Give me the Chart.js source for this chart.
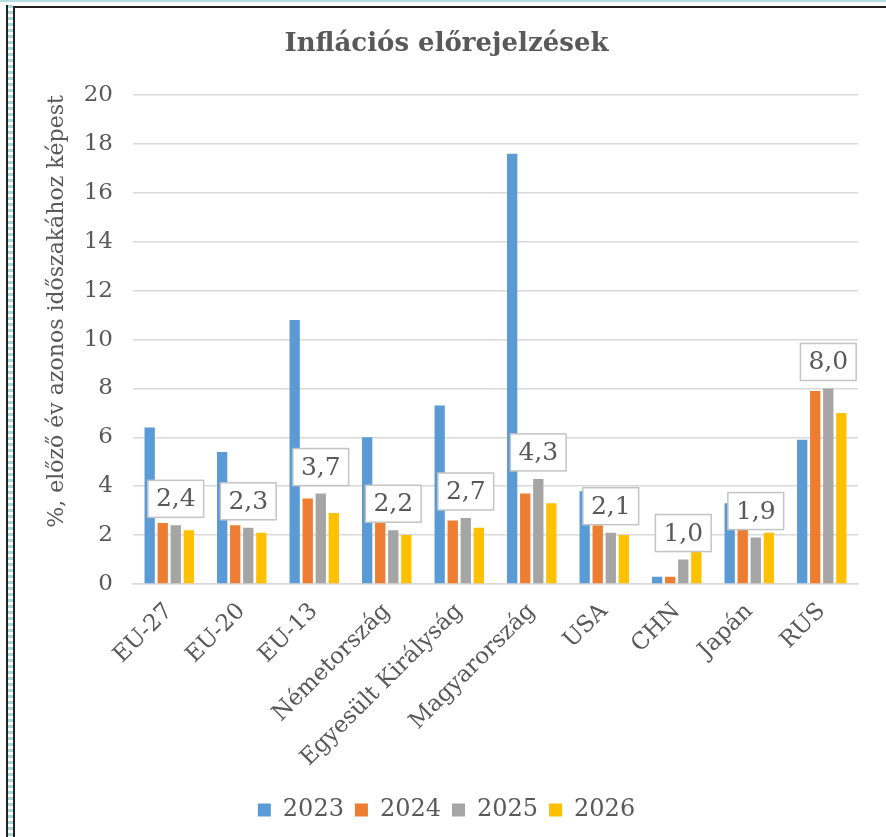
<!DOCTYPE html>
<html>
<head>
<meta charset="utf-8">
<script src="https://cdn.jsdelivr.net/npm/chart.js@4"></script>
<style>
  body { margin: 0; background: #fff; }
  #wrap { position: relative; width: 886px; height: 837px; overflow: hidden; }
  .topStripe { position: absolute; left: 0; top: 0; width: 886px; height: 2px; background: #B4DCE2; }
  .outerLine { position: absolute; left: 6px; top: 5px; width: 2px; height: 840px; background: #222; }
  .dotLine { position: absolute; left: 8px; top: 5px; width: 5px; height: 840px;
    background: repeating-linear-gradient(to bottom, #A9D6DC 0 3px, #fff 3px 6px); }
  .innerLeft { position: absolute; left: 13px; top: 6px; width: 2px; height: 840px; background: #222; }
  .innerTop { position: absolute; left: 13px; top: 6px; width: 880px; height: 2px; background: #222; }
  canvas { position: absolute; left: 0; top: 0; }
</style>
</head>
<body>
<div id="wrap">
  <div class="topStripe"></div>
  <div class="outerLine"></div>
  <div class="dotLine"></div>
  <div class="innerLeft"></div>
  <div class="innerTop"></div>
  <canvas id="inflationChart" width="886" height="837"></canvas>
</div>
<script>
const categories = ['EU-27', 'EU-20', 'EU-13', 'Németország', 'Egyesült Királyság', 'Magyarország', 'USA', 'CHN', 'Japán', 'RUS'];
const years = ['2023', '2024', '2025', '2026'];
const v2023 = [6.4, 5.4, 10.8, 6.0, 7.3, 17.6, 3.8, 0.3, 3.3, 5.9];
const v2024 = [2.5, 2.4, 3.5, 2.5, 2.6, 3.7, 2.4, 0.3, 2.3, 7.9];
const v2025 = [2.4, 2.3, 3.7, 2.2, 2.7, 4.3, 2.1, 1.0, 1.9, 8.0];
const v2026 = [2.2, 2.1, 2.9, 2.0, 2.3, 3.3, 2.0, 1.4, 2.1, 7.0];
const colors = ['#5B9BD5', '#ED7D31', '#A5A5A5', '#FFC000'];

const FONT = '"DejaVu Serif", serif';
const TEXT = '#595959';

// boxed value labels above the 2025 bars
const valueLabels = {
  id: 'valueLabels',
  afterDatasetsDraw(chart) {
    const meta = chart.getDatasetMeta(2);
    const ctx = chart.ctx;
    ctx.save();
    ctx.font = '25px ' + FONT;
    meta.data.forEach((bar, i) => {
      const text = v2025[i].toFixed(1).replace('.', ',');
      const w = ctx.measureText(text).width + 16;
      const h = 37;
      const x = bar.x - w / 2;
      const y = bar.y - 8 - h;
      ctx.fillStyle = '#fff';
      ctx.fillRect(x, y, w, h);
      ctx.strokeStyle = '#C4C4C4';
      ctx.lineWidth = 1.5;
      ctx.strokeRect(x, y, w, h);
      ctx.fillStyle = TEXT;
      ctx.textAlign = 'center';
      ctx.textBaseline = 'middle';
      ctx.fillText(text, bar.x, y + h / 2 + 1);
    });
    ctx.restore();
  }
};

const ctx = document.getElementById('inflationChart').getContext('2d');

new Chart(ctx, {
  type: 'bar',
  data: {
    labels: categories,
    datasets: [v2023, v2024, v2025, v2026].map((vals, i) => ({
      label: years[i],
      data: vals,
      backgroundColor: colors[i],
      categoryPercentage: 0.72,
      barPercentage: 0.79
    }))
  },
  options: {
    responsive: false,
    devicePixelRatio: 1,
    animation: false,
    layout: { padding: { left: 15, top: 10, right: 8, bottom: 5 } },
    plugins: {
      title: {
        display: true,
        text: 'Inflációs előrejelzések',
        color: TEXT,
        font: { family: FONT, size: 26, weight: 'bold' },
        padding: { top: 19, bottom: 35 }
      },
      legend: {
        position: 'bottom',
        labels: {
          color: TEXT,
          font: { family: FONT, size: 24 },
          boxWidth: 13,
          boxHeight: 13,
          padding: 11
        }
      },
      tooltip: { enabled: false }
    },
    scales: {
      x: {
        grid: { display: false, drawTicks: false },
        border: { color: '#D9D9D9', width: 1.5 },
        ticks: {
          color: TEXT,
          font: { family: FONT, size: 23 },
          maxRotation: 45,
          minRotation: 45,
          autoSkip: false,
          padding: 14
        },
        afterFit(scale) { scale.height = 203; }
      },
      y: {
        min: 0,
        max: 20,
        ticks: {
          stepSize: 2,
          color: TEXT,
          font: { family: FONT, size: 23 },
          padding: 20
        },
        grid: { color: '#D9D9D9', lineWidth: 1.5, drawTicks: false },
        border: { display: false },
        title: {
          display: true,
          text: '%, előző év azonos időszakához képest',
          color: TEXT,
          align: 'end',
          font: { family: FONT, size: 22 },
          padding: { top: 29 }
        },
        afterFit(scale) { scale.width = 118; }
      },
      yR: {
        position: 'right',
        display: true,
        grid: { display: false },
        border: { display: false },
        ticks: { display: false },
        afterFit(scale) { scale.width = 20; }
      }
    }
  },
  plugins: [valueLabels]
});
</script>
</body>
</html>
